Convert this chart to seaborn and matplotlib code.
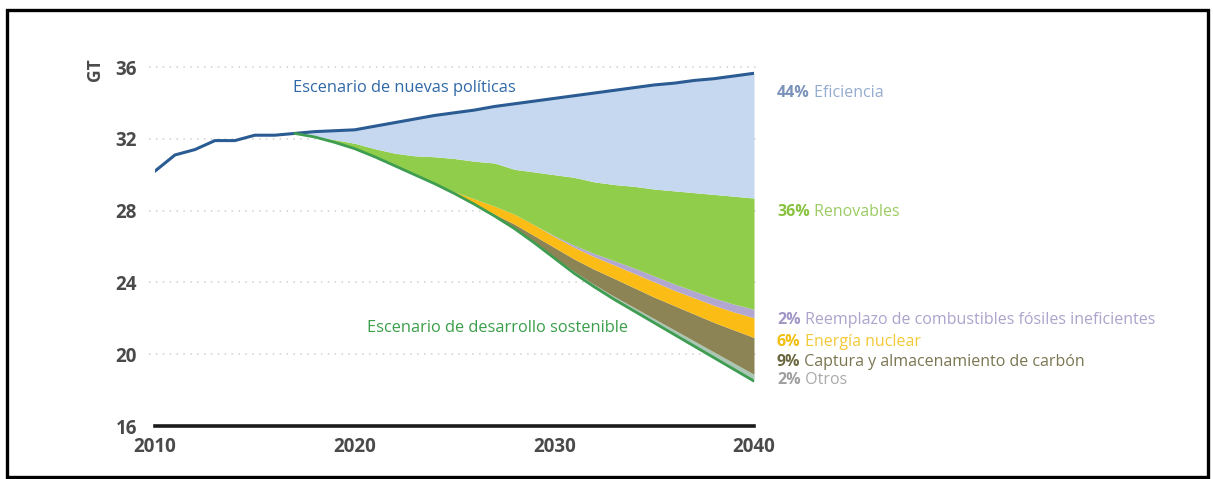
import numpy as np
import pandas as pd
import matplotlib
matplotlib.use("Agg")
import matplotlib.pyplot as plt
import seaborn as sns
from matplotlib.patches import Rectangle

# ---------------- data ----------------
hist_years = [2010, 2011, 2012, 2013, 2014, 2015, 2016, 2017]
hist_values = [30.2, 31.1, 31.4, 31.9, 31.9, 32.2, 32.2, 32.3]

years = list(range(2017, 2041))
# New Policies Scenario (upper line)
nps = [32.3, 32.4, 32.45, 32.5, 32.7, 32.9, 33.1, 33.3, 33.45, 33.6, 33.8, 33.95,
       34.1, 34.25, 34.4, 34.55, 34.7, 34.85, 35.0, 35.1, 35.25, 35.35, 35.5, 35.65]
# Sustainable Development Scenario (lower line)
sds = [32.3, 32.1, 31.8, 31.45, 31.0, 30.5, 30.0, 29.5, 28.95, 28.35, 27.7, 27.0,
       26.2, 25.35, 24.5, 23.75, 23.05, 22.4, 21.75, 21.1, 20.45, 19.8, 19.15, 18.5]
# wedge thicknesses (GT), stacked from the SDS line upwards
otros = [0, 0, 0, 0, 0, 0, 0, 0, 0, 0, 0, 0,
         0, 0.05, 0.1, 0.13, 0.17, 0.2, 0.23, 0.26, 0.29, 0.32, 0.35, 0.38]
ccus = [0, 0, 0, 0, 0, 0, 0, 0, 0, 0, 0.1, 0.25,
        0.4, 0.55, 0.7, 0.85, 1.0, 1.1, 1.2, 1.35, 1.5, 1.65, 1.85, 2.05]
nuclear = [0, 0, 0, 0, 0, 0, 0, 0, 0.1, 0.3, 0.45, 0.55,
           0.6, 0.6, 0.65, 0.7, 0.75, 0.8, 0.85, 0.85, 0.9, 0.95, 1.0, 1.1]
fuel_switch = [0, 0, 0, 0, 0, 0, 0, 0, 0, 0, 0, 0,
               0, 0.05, 0.12, 0.18, 0.24, 0.3, 0.33, 0.36, 0.38, 0.41, 0.44, 0.47]
renewables = [0, 0.05, 0.15, 0.3, 0.45, 0.7, 1.05, 1.5, 1.85, 2.1, 2.4, 2.5,
              2.95, 3.4, 3.78, 3.99, 4.24, 4.55, 4.84, 5.18, 5.48, 5.77, 6.01, 6.2]
# efficiency fills the gap up to the NPS line

x_ticks = [2010, 2020, 2030, 2040]
y_ticks = [16, 20, 24, 28, 32, 36]

labels = [
    ("44%", "Eficiencia", "#7b93bb", "#95acd0"),
    ("36%", "Renovables", "#88c23e", "#9bcb63"),
    ("2%", "Reemplazo de combustibles fósiles ineficientes", "#a196c6", "#ada3cc"),
    ("6%", "Energía nuclear", "#f1bf10", "#f3c936"),
    ("9%", "Captura y almacenamiento de carbón", "#6b6840", "#7a7651"),
    ("2%", "Otros", "#9f9f9f", "#aaaaaa"),
]
label_y = [34.55, 27.92, 21.9, 20.68, 19.57, 18.56]

# ---------------- figure ----------------
sns.set_theme(style="white")
plt.rcParams["font.family"] = ["Open Sans", "DejaVu Sans"]

fig = plt.figure(figsize=(12.13, 4.79), dpi=100)
ax = fig.add_axes([155 / 1213, 1 - 426 / 479, (754 - 155) / 1213, (426 - 67) / 479])

yrs = np.array(years, dtype=float)
base = np.array(sds)
layers = [
    (otros, "#a9c7b4"),
    (ccus, "#8d8455"),
    (nuclear, "#fbbd15"),
    (fuel_switch, "#b2a7d0"),
    (renewables, "#8fcd4a"),
]
cur = base.copy()
for vals, col in layers:
    top = cur + np.array(vals)
    ax.fill_between(yrs, cur, top, color=col, linewidth=0, zorder=2)
    cur = top
ax.fill_between(yrs, cur, np.array(nps), color="#c5d8ef", linewidth=0, zorder=2)

df_hist = pd.DataFrame({"year": hist_years + years[1:], "gt": hist_values + nps[1:]})
sns.lineplot(data=df_hist, x="year", y="gt", ax=ax, color="#2a5b93", linewidth=2.2, zorder=4)
df_sds = pd.DataFrame({"year": years, "gt": sds})
sns.lineplot(data=df_sds, x="year", y="gt", ax=ax, color="#3f9d52", linewidth=2.0, zorder=4)

ax.set_xlim(2010, 2040)
ax.set_ylim(16, 36)
ax.set_xticks(x_ticks)
ax.set_yticks(y_ticks)
ax.set_xlabel("")
ax.set_ylabel("")
for s in ["top", "right", "left"]:
    ax.spines[s].set_visible(False)
ax.spines["bottom"].set_color("#1a1a1a")
ax.spines["bottom"].set_linewidth(2.6)
ax.spines["bottom"].set_zorder(5)
ax.tick_params(axis="both", length=0, labelsize=13.5, colors="#4a4a4a")
ax.tick_params(axis="y", pad=13)
ax.tick_params(axis="x", pad=8)
for t in ax.get_xticklabels() + ax.get_yticklabels():
    t.set_fontweight("bold")
ax.grid(False)
for yv in y_ticks[1:]:
    ax.axhline(yv, color="#d0d0d0", linewidth=1.1, linestyle=(0, (1, 3.5)), zorder=1,
               xmin=-0.01, xmax=1.005, clip_on=False)

ax.text(2016.9, 34.83, "Escenario de nuevas políticas", color="#2f68a6",
        fontsize=11.8, va="center", ha="left", zorder=6)
ax.text(2020.6, 21.46, "Escenario de desarrollo sostenible", color="#3a9e4a",
        fontsize=11.8, va="center", ha="left", zorder=6)

for (pct, txt, c1, c2), yv in zip(labels, label_y):
    t1 = ax.text(2041.15, yv, pct, color=c1, fontsize=11.5, fontweight="bold",
                 va="center", ha="left", clip_on=False)
    ax.annotate(" " + txt, xy=(1, 0.5), xycoords=t1, va="center", ha="left",
                color=c2, fontsize=11.5, annotation_clip=False)

fig.text(95 / 1213, 1 - 70 / 479, "GT", rotation=90, fontsize=12.5, fontweight="bold",
         color="#4a4a4a", ha="center", va="center")

fig.patches.append(Rectangle((7 / 1213, 2 / 479), (1208 - 7) / 1213, (469 - 2) / 479,
                             transform=fig.transFigure, fill=False, edgecolor="black",
                             linewidth=2.4, zorder=10))

fig.savefig("out.png", dpi=100)
